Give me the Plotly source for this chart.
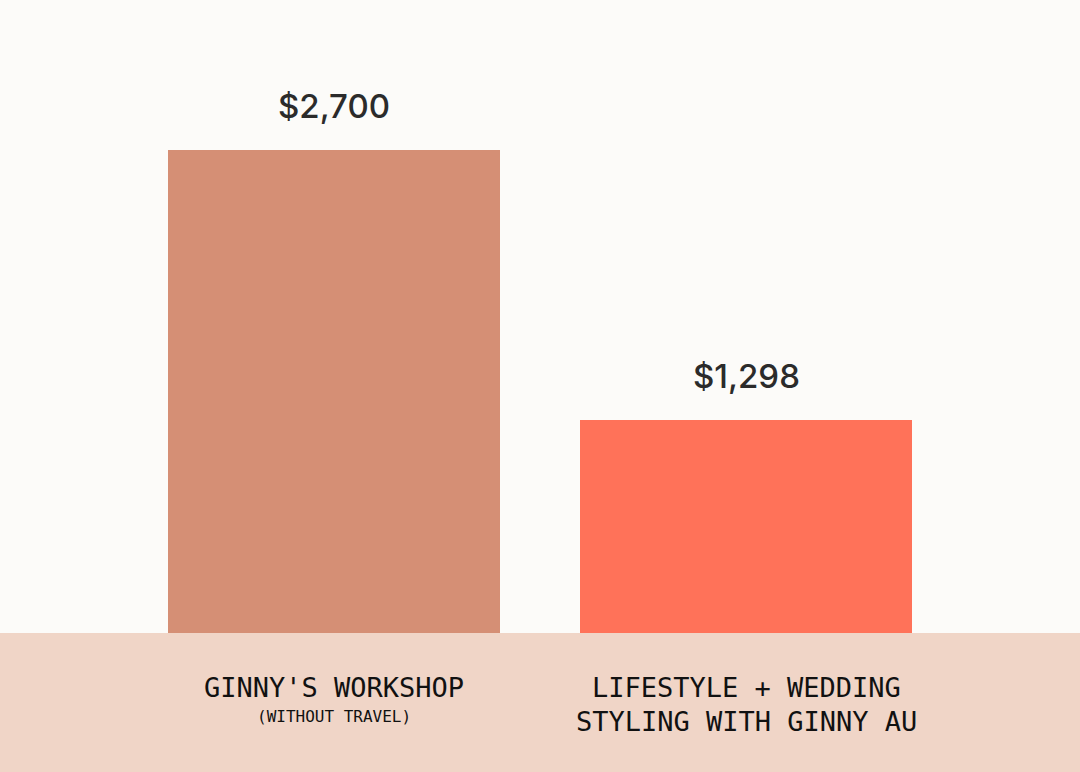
import plotly.graph_objects as go

categories = ["GINNY'S WORKSHOP", "LIFESTYLE + WEDDING STYLING WITH GINNY AU"]
label_line1 = ["GINNY'S WORKSHOP", "LIFESTYLE + WEDDING"]
label_line2 = ["(WITHOUT TRAVEL)", "STYLING WITH GINNY AU"]
values = [2700, 1298]
value_labels = ["$2,700", "$1,298"]
bar_colors = ["#D58F75", "#FF7259"]

W, H = 1080, 772
M_T, M_B, M_L, M_R = 60, 139, 128, 128
PH = H - M_T - M_B

fig = go.Figure()
fig.add_trace(go.Bar(
    x=categories, y=values, marker=dict(color=bar_colors, line=dict(width=0)),
    width=0.806, hoverinfo="skip",
))

# value labels above bars
for c, v, t in zip(categories, values, value_labels):
    fig.add_annotation(x=c, y=v, text=t, showarrow=False, yanchor="bottom", yshift=22,
                       font=dict(family="Inter", size=33, weight=500, color="#2B2B2B"))

# category labels in bottom band
for i, c in enumerate(categories):
    fig.add_annotation(x=c, y=0, yref="paper", text=label_line1[i], showarrow=False,
                       yanchor="middle", yshift=-54,
                       font=dict(family="DejaVu Sans Mono", size=27, color="#111111"))
    small = (i == 0)
    fig.add_annotation(x=c, y=0, yref="paper", text=label_line2[i], showarrow=False,
                       yanchor="middle", yshift=-83 if small else -88,
                       font=dict(family="DejaVu Sans Mono", size=16 if small else 27, color="#111111"))

# bottom band
fig.add_shape(type="rect", xref="paper", yref="paper", x0=-0.5, x1=1.5,
              y0=-(M_B + 10) / PH, y1=0, fillcolor="#F0D5C7", line=dict(width=0), layer="below")

y0 = 192
k = 483 / (2700 - y0)
fig.update_layout(
    width=W, height=H,
    margin=dict(l=M_L, r=M_R, t=M_T, b=M_B),
    paper_bgcolor="#FCFBF9", plot_bgcolor="#FCFBF9",
    showlegend=False,
    bargap=0,
    xaxis=dict(showticklabels=False, showgrid=False, zeroline=False, showline=False,
               range=[-0.5, 1.5], fixedrange=True),
    yaxis=dict(showticklabels=False, showgrid=False, zeroline=False, showline=False,
               range=[y0, y0 + PH / k], fixedrange=True),
)
fig.write_html("out.html", config={"displayModeBar": False},
               post_script="document.body.style.margin='0';document.body.style.overflow='hidden';")
